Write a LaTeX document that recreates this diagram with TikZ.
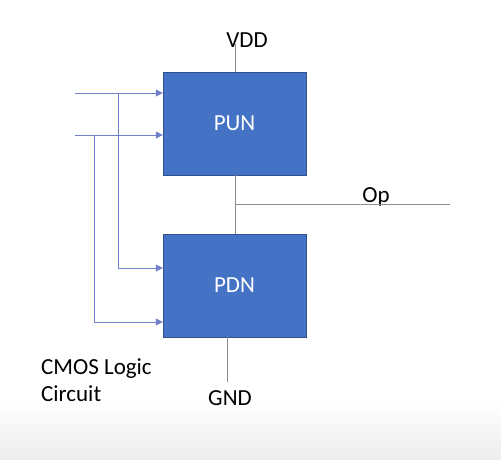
\documentclass[tikz,border=0pt]{standalone}
\usepackage{fontspec}
\setmainfont{Carlito}
\usetikzlibrary{arrows.meta, positioning, calc}
\definecolor{netblue}{RGB}{68,114,196}
\definecolor{netedge}{RGB}{47,82,143}
\definecolor{wireblue}{RGB}{112,128,200}
\definecolor{wiregray}{RGB}{140,140,150}

\begin{document}
\begin{tikzpicture}[
        x=1pt, y=-1pt,
        net/.style={rectangle, draw=netedge, fill=netblue, minimum width=143pt, minimum height=103pt, text=white, font=\fontsize{23}{27}\selectfont, inner sep=0pt},
        lbl/.style={font=\fontsize{23}{27}\selectfont, align=left, inner sep=0pt},
        inwire/.style={wireblue, line width=0.8pt},
        railwire/.style={wiregray, line width=0.8pt},
        tip/.style={-{Triangle[length=7pt,width=7pt]}}
    ]
        \useasboundingbox (0,0) rectangle (501,459);
        \shade[top color=white, bottom color=black!7] (0,400) rectangle (501,459);

        \node[net] (pun) at (234.5,123.5) {PUN};
        \node[net] (pdn) at (234.5,285.5) {PDN};

        \node[lbl] (vdd) at (247,40) {VDD};
        \node[lbl] (gnd) at (230,398) {GND};
        \node[lbl] (op) at (376,197) {Op};
        \node[lbl, anchor=west] (title) at (41,380) {CMOS Logic\\Circuit};

        % supply and output
        \coordinate (vddend) at (235,44);
        \coordinate (mid) at (235,204);
        \coordinate (opend) at (450,204);
        \coordinate (gndtop) at (227,337);
        \coordinate (gndend) at (227,382);
        \draw[railwire] (pun.north -| vddend) -- (vddend);
        \draw[railwire] (pun.south -| mid) -- (pdn.north -| mid);
        \draw[railwire] (mid) -- (opend);
        \draw[railwire] (gndtop) -- (gndend);

        % inputs
        \coordinate (ina) at (75,93);
        \coordinate (inb) at (75,135);
        \coordinate (tapa) at (118,93);
        \coordinate (tapb) at (94,135);
        \coordinate (downa) at (118,268);
        \coordinate (downb) at (94,322);
        \draw[inwire, tip] (ina) -- (pun.west |- ina);
        \draw[inwire, tip] (inb) -- (pun.west |- inb);
        \draw[inwire, tip] (tapa) -- (downa) -- (pdn.west |- downa);
        \draw[inwire, tip] (tapb) -- (downb) -- (pdn.west |- downb);
    \end{tikzpicture}
\end{document}
